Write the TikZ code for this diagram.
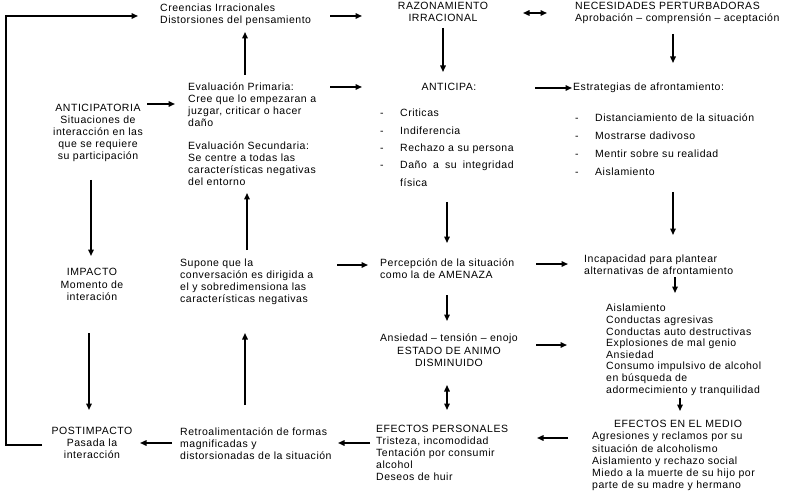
\documentclass[tikz,border=0pt]{standalone}
\usepackage{fontspec}
\setmainfont{Liberation Sans}[LetterSpace=5]
\usepackage{calc}
\usetikzlibrary{arrows.meta}
\begin{document}
\begin{tikzpicture}[x=1pt,y=-1pt,
  every node/.style={inner sep=0pt, font=\fontsize{10.5}{11.9}\selectfont},
  txtl/.style={anchor=north west, align=left},
  txtc/.style={anchor=north, align=center},
  arr/.style={line width=1.5pt, -{Triangle[length=6.5pt,width=5.5pt]}},
  darr/.style={line width=1.5pt, {Triangle[length=6.5pt,width=5.5pt]}-{Triangle[length=6.5pt,width=5.5pt]}}]
\useasboundingbox[fill=white] (0,0) rectangle (792,497);

% ---------- nodes ----------
\node[txtl] (creencias) at (160,3.5) {Creencias Irracionales\\Distorsiones del pensamiento};
\node[txtc] (raz) at (443,2) {RAZONAMIENTO\\IRRACIONAL};
\node[txtl] (neces) at (575,2) {NECESIDADES PERTURBADORAS\\Aprobación – comprensión – aceptación};

\node[txtc, font=\fontsize{10.5}{12}\selectfont] (anticipatoria) at (98,104)
  {ANTICIPATORIA\\Situaciones de\\interacción en las\\que se requiere\\su participación};
\node[txtl, font=\fontsize{10.5}{11.8}\selectfont] (evalp) at (188,83) {Evaluación Primaria:\\Cree que lo empezaran a\\juzgar, criticar o hacer\\daño};
\node[txtl, font=\fontsize{10.5}{11.8}\selectfont] (evals) at (188,142) {Evaluación Secundaria:\\Se centre a todas las\\características negativas\\del entorno};
\node[txtc] (anticipa) at (449,83) {ANTICIPA:};
\node[txtl, font=\fontsize{10.5}{17.3}\selectfont] (anticlist) at (380,109)
  {\makebox[20pt][l]{-}Criticas\\
   \makebox[20pt][l]{-}Indiferencia\\
   \makebox[20pt][l]{-}Rechazo a su persona\\
   \makebox[20pt][l]{-}\makebox[\widthof{Rechazo a su persona}][s]{Daño a su integridad}\\
   \makebox[20pt][l]{}física};
\node[txtl] (estrat) at (573,83) {Estrategias de afrontamiento:};
\node[txtl, font=\fontsize{10.5}{17.7}\selectfont] (estratlist) at (575,114)
  {\makebox[20pt][l]{-}Distanciamiento de la situación\\
   \makebox[20pt][l]{-}Mostrarse dadivoso\\
   \makebox[20pt][l]{-}Mentir sobre su realidad\\
   \makebox[20pt][l]{-}Aislamiento};

\node[txtc, font=\fontsize{10.5}{12.5}\selectfont] (impacto) at (92,268) {IMPACTO\\Momento de\\interación};
\node[txtl] (supone) at (180,259) {Supone que la\\conversación es dirigida a\\el y sobredimensiona las\\características negativas};
\node[txtl] (percep) at (380,259) {Percepción de la situación\\como la de AMENAZA};
\node[txtl] (incap) at (584,255) {Incapacidad para plantear\\alternativas de afrontamiento};
\node[txtl, font=\fontsize{10.5}{11.6}\selectfont] (consec) at (606,304)
  {Aislamiento\\Conductas agresivas\\Conductas auto destructivas\\Explosiones de mal genio\\Ansiedad\\Consumo impulsivo de alcohol\\en búsqueda de\\adormecimiento y tranquilidad};
\node[txtc, font=\fontsize{10.5}{12.3}\selectfont] (ansiedad) at (449,334) {Ansiedad – tensión – enojo\\ESTADO DE ANIMO\\DISMINUIDO};

\node[txtc, font=\fontsize{10.5}{12.2}\selectfont] (post) at (92,427) {POSTIMPACTO\\Pasada la\\interacción};
\node[txtl] (retro) at (180,428) {Retroalimentación de formas\\magnificadas y\\distorsionadas de la situación};
\node[txtl] (efper) at (376,425) {EFECTOS PERSONALES\\Tristeza, incomodidad\\Tentación por consumir\\alcohol\\Deseos de huir};
\node[txtc] (efmtitle) at (678,420) {EFECTOS EN EL MEDIO};
\node[txtl, font=\fontsize{10.5}{12.2}\selectfont] (efmedio) at (592,432) {Agresiones y reclamos por su\\situación de alcoholismo\\Aislamiento y rechazo social\\Miedo a la muerte de su hijo por\\parte de su madre y hermano};

% ---------- connector end points ----------
\coordinate (post-out) at (42,445);
\coordinate (creencias-in) at (138,16);
\coordinate (creencias-out) at (330,16);  \coordinate (raz-in) at (362,16);
\coordinate (raz-r) at (523,13);          \coordinate (neces-l) at (547,13);
\coordinate (neces-out) at (673,34);      \coordinate (estrat-in) at (673,63);
\coordinate (raz-out) at (443,28);        \coordinate (anticipa-in) at (443,72);
\coordinate (anticipa-out) at (535,88);   \coordinate (estrat-inl) at (572,88);
\coordinate (anticipatoria-out) at (147,104); \coordinate (evalp-in) at (175,104);
\coordinate (evalp-up) at (245,75);       \coordinate (creencias-bot) at (245,32);
\coordinate (evalp-out) at (330,87);      \coordinate (anticipa-inl) at (362,87);
\coordinate (anticipatoria-down) at (91,180); \coordinate (impacto-in) at (91,256);
\coordinate (supone-up) at (247,250);     \coordinate (evals-bot) at (247,193);
\coordinate (supone-out) at (337,265);    \coordinate (percep-in) at (368,265);
\coordinate (anticlist-down) at (447,202); \coordinate (percep-top) at (447,243);
\coordinate (estratlist-down) at (673,192); \coordinate (incap-top) at (673,235);
\coordinate (percep-out) at (536,264);    \coordinate (incap-in) at (568,264);
\coordinate (incap-down) at (675,277);    \coordinate (consec-top) at (675,293);
\coordinate (percep-down) at (447,295);   \coordinate (ansiedad-top) at (447,321);
\coordinate (ansiedad-out) at (536,345);  \coordinate (consec-in) at (567,345);
\coordinate (ansiedad-bot) at (447,385);  \coordinate (efper-top) at (447,410);
\coordinate (consec-down) at (680,398);   \coordinate (efmtitle-top) at (680,411);
\coordinate (efmedio-out) at (568,438);   \coordinate (efper-in) at (537,438);
\coordinate (efper-out) at (370,443);     \coordinate (retro-in) at (338,443);
\coordinate (retro-up) at (245,405);      \coordinate (supone-bot) at (245,333);
\coordinate (impacto-down) at (89,333);   \coordinate (post-top) at (89,410);
\coordinate (retro-out) at (172,443);     \coordinate (post-in) at (140,443);

% ---------- connectors ----------
\draw[arr] (post-out) -- (6,445) -- (6,16) -- (creencias-in);
\draw[arr] (creencias-out) -- (raz-in);
\draw[darr] (raz-r) -- (neces-l);
\draw[arr] (neces-out) -- (estrat-in);
\draw[arr] (raz-out) -- (anticipa-in);
\draw[arr] (anticipa-out) -- (estrat-inl);
\draw[arr] (anticipatoria-out) -- (evalp-in);
\draw[arr] (evalp-up) -- (creencias-bot);
\draw[arr] (evalp-out) -- (anticipa-inl);
\draw[arr] (anticipatoria-down) -- (impacto-in);
\draw[arr] (supone-up) -- (evals-bot);
\draw[arr] (supone-out) -- (percep-in);
\draw[arr] (anticlist-down) -- (percep-top);
\draw[arr] (estratlist-down) -- (incap-top);
\draw[arr] (percep-out) -- (incap-in);
\draw[arr] (incap-down) -- (consec-top);
\draw[arr] (percep-down) -- (ansiedad-top);
\draw[arr] (ansiedad-out) -- (consec-in);
\draw[darr] (ansiedad-bot) -- (efper-top);
\draw[arr] (consec-down) -- (efmtitle-top);
\draw[arr] (efmedio-out) -- (efper-in);
\draw[arr] (efper-out) -- (retro-in);
\draw[arr] (retro-up) -- (supone-bot);
\draw[arr] (impacto-down) -- (post-top);
\draw[arr] (retro-out) -- (post-in);
\end{tikzpicture}
\end{document}
